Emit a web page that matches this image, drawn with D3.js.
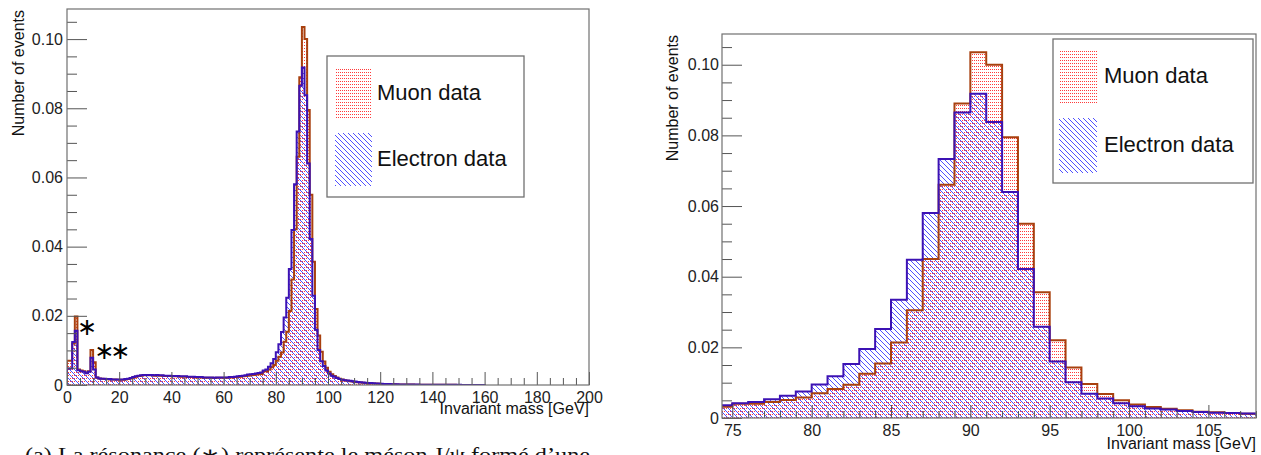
<!DOCTYPE html>
<html>
<head>
<meta charset="utf-8">
<script src="https://cdn.jsdelivr.net/npm/d3@7"></script>
<style>
  body { margin: 0; background: #fff; }
  svg { display: block; }
  .tick text { font-family: "Liberation Sans", Arial, sans-serif; font-size: 16px; fill: #222; }
  .tick line { stroke: #555; }
</style>
</head>
<body>
<script>
// 1 GeV bins starting at 0 GeV
const firstBin = 0;
const binWidth = 1;

const muonData = [
    0.0070, 0.0070, 0.0120, 0.0198, 0.0045, 0.0042, 0.0040, 0.0036, 0.0040, 0.0101,
    0.0066, 0.0022, 0.0019, 0.0018, 0.0017, 0.0017, 0.0016, 0.0016, 0.0016, 0.0015,
    0.0015, 0.0015, 0.0016, 0.0017, 0.0019, 0.0022, 0.0024, 0.0026, 0.0027, 0.0028,
    0.0028, 0.0028, 0.0028, 0.0027, 0.0028, 0.0027, 0.0027, 0.0026, 0.0026, 0.0026,
    0.0025, 0.0025, 0.0025, 0.0024, 0.0024, 0.0024, 0.0023, 0.0023, 0.0023, 0.0022,
    0.0022, 0.0022, 0.0021, 0.0021, 0.0021, 0.0021, 0.0020, 0.0021, 0.0021, 0.0021,
    0.0021, 0.0021, 0.0022, 0.0022, 0.0023, 0.0023, 0.0024, 0.0025, 0.0026, 0.0027,
    0.0028, 0.0029, 0.0030, 0.0031, 0.0032, 0.0040, 0.0040, 0.0045, 0.0051, 0.0058,
    0.0070, 0.0082, 0.0094, 0.0125, 0.0154, 0.0214, 0.0305, 0.0450, 0.0660, 0.0890,
    0.1035, 0.1000, 0.0795, 0.0550, 0.0356, 0.0220, 0.0143, 0.0096, 0.0068, 0.0050,
    0.0038, 0.0031, 0.0026, 0.0022, 0.0018, 0.0016, 0.0014, 0.0012, 0.0011, 0.0010,
    0.0009, 0.0008, 0.0007, 0.00065, 0.0006, 0.00055, 0.0005, 0.00045, 0.0004, 0.00035,
    0.0003, 0.0003, 0.00028, 0.00025, 0.00022, 0.0002, 0.00018, 0.00016, 0.00015, 0.00014,
    0.00012, 0.00012, 0.00011, 0.0001, 0.0001, 0.00009, 0.00009, 0.00008, 0.00008, 0.00007,
    0.00007, 0.00006, 0.00006, 0.00005, 0.00005, 0.00005, 0.00004, 0.00004, 0.00004, 0.00003,
    0.00003, 0.00003, 0.00002, 0.00002, 0.00002, 0.00002, 0.00001, 0.00001, 0.00001, 0.00001
];

const electronData = [
    0.0048, 0.0048, 0.0124, 0.0157, 0.0043, 0.0040, 0.0038, 0.0034, 0.0038, 0.0079,
    0.0045, 0.0022, 0.0019, 0.0018, 0.0018, 0.0017, 0.0017, 0.0016, 0.0016, 0.0016,
    0.0016, 0.0016, 0.0017, 0.0018, 0.0020, 0.0023, 0.0025, 0.0027, 0.0028, 0.0029,
    0.0029, 0.0029, 0.0029, 0.0028, 0.0029, 0.0028, 0.0028, 0.0027, 0.0027, 0.0027,
    0.0026, 0.0026, 0.0026, 0.0025, 0.0025, 0.0025, 0.0024, 0.0024, 0.0024, 0.0023,
    0.0023, 0.0023, 0.0022, 0.0022, 0.0022, 0.0022, 0.0021, 0.0022, 0.0022, 0.0022,
    0.0022, 0.0022, 0.0023, 0.0023, 0.0024, 0.0025, 0.0026, 0.0027, 0.0028, 0.0030,
    0.0031, 0.0032, 0.0033, 0.0035, 0.0036, 0.0042, 0.0045, 0.0053, 0.0063, 0.0075,
    0.0095, 0.0118, 0.0153, 0.0195, 0.0252, 0.0335, 0.0448, 0.0580, 0.0733, 0.0865,
    0.0918, 0.0838, 0.0640, 0.0422, 0.0258, 0.0160, 0.0101, 0.0069, 0.0055, 0.0042,
    0.0033, 0.0027, 0.0024, 0.0020, 0.0017, 0.0015, 0.0014, 0.0013, 0.0012, 0.0011,
    0.0010, 0.0009, 0.0008, 0.0007, 0.00065, 0.0006, 0.00055, 0.0005, 0.00045, 0.0004,
    0.00035, 0.00032, 0.0003, 0.00027, 0.00024, 0.00022, 0.0002, 0.00018, 0.00017, 0.00016,
    0.00015, 0.00014, 0.00013, 0.00012, 0.00011, 0.0001, 0.0001, 0.00009, 0.00009, 0.00008,
    0.00008, 0.00007, 0.00007, 0.00006, 0.00006, 0.00005, 0.00005, 0.00005, 0.00004, 0.00004,
    0.00004, 0.00003, 0.00003, 0.00003, 0.00002, 0.00002, 0.00002, 0.00001, 0.00001, 0.00001
];

const seriesNames = ["Muon data", "Electron data"];
const yTicks = [0, 0.02, 0.04, 0.06, 0.08, 0.10];
const yTickLabels = ["0", "0.02", "0.04", "0.06", "0.08", "0.10"];
const yMinorTicks = [0.005, 0.01, 0.015, 0.025, 0.03, 0.035, 0.045, 0.05, 0.055, 0.065, 0.07, 0.075, 0.085, 0.09, 0.095, 0.105];
const fullTicks = [0, 20, 40, 60, 80, 100, 120, 140, 160, 180, 200];
const zoomTicks = [75, 80, 85, 90, 95, 100, 105];
const yTitle = "Number of events";
const xTitle = "Invariant mass [GeV]";
const caption = "(a) La résonance (∗) représente le méson J/ψ formé d’une";

const yMax = 0.1087;

const svg = d3.select("body").append("svg")
    .attr("width", 1261)
    .attr("height", 455);

// ROOT-like fill patterns
const defs = svg.append("defs");
const dots = defs.append("pattern")
    .attr("id", "muonDots")
    .attr("patternUnits", "userSpaceOnUse")
    .attr("width", 2).attr("height", 3);
dots.append("rect").attr("width", 1).attr("height", 1).attr("fill", "#ff3a3a");

const hatch = defs.append("pattern")
    .attr("id", "elecHatch")
    .attr("patternUnits", "userSpaceOnUse")
    .attr("width", 5).attr("height", 5);
hatch.append("path")
    .attr("d", "M0,0L5,5M-1,4L1,6M4,-1L6,1")
    .attr("stroke", "#5050ff")
    .attr("stroke-width", 1)
    .attr("fill", "none");

const series = [
    { name: seriesNames[0], values: muonData, fill: "url(#muonDots)", stroke: "#a8400e" },
    { name: seriesNames[1], values: electronData, fill: "url(#elecHatch)", stroke: "#3c12b4" }
];

const panels = [
    {
        id: "full", left: 67, right: 589, top: 9, bottom: 385,
        xDomain: [0, 200], xTicks: fullTicks, xMinorStep: 5, labelPad: 7, yPad: 4,
        titleY: 414, yTitleX: 24,
        legend: { x: 327, y: 56, w: 197, h: 141, sw: [335, 67, 37, 52, 133, 53], tx: 377, ty: [100, 166] }
    },
    {
        id: "zoom", left: 722, right: 1256, top: 34, bottom: 418,
        xDomain: [74.35, 108], xTicks: zoomTicks, xMinorStep: 1, labelPad: 7, yPad: 3,
        titleY: 449, yTitleX: 678,
        legend: { x: 1053, y: 39, w: 200, h: 144, sw: [1059, 49, 38, 55, 118, 55], tx: 1104, ty: [83, 152] }
    }
];

function histPoints(values) {
    const pts = [[firstBin, 0]];
    values.forEach((v, i) => {
        pts.push([firstBin + i * binWidth, v]);
        pts.push([firstBin + (i + 1) * binWidth, v]);
    });
    pts.push([firstBin + values.length * binWidth, 0]);
    return pts;
}

panels.forEach(p => {
    const g = svg.append("g");
    const x = d3.scaleLinear().domain(p.xDomain).range([p.left, p.right]);
    const y = d3.scaleLinear().domain([0, yMax]).range([p.bottom, p.top]);

    defs.append("clipPath").attr("id", "clip-" + p.id)
        .append("rect")
        .attr("x", p.left).attr("y", p.top - 2)
        .attr("width", p.right - p.left).attr("height", p.bottom - p.top + 2);

    const line = d3.line().x(d => x(d[0])).y(d => y(d[1]));
    const hist = g.append("g").attr("clip-path", `url(#clip-${p.id})`);

    // fills first, then outlines
    series.forEach(s => {
        hist.append("path")
            .attr("d", line(histPoints(s.values)) + "Z")
            .attr("fill", s.fill)
            .attr("stroke", "none");
    });
    series.forEach(s => {
        hist.append("path")
            .attr("d", line(histPoints(s.values)))
            .attr("fill", "none")
            .attr("stroke", s.stroke)
            .attr("stroke-width", 2);
    });

    // axes (ticks inside the frame, ROOT style)
    const xMinor = d3.range(Math.ceil(p.xDomain[0] / p.xMinorStep) * p.xMinorStep, p.xDomain[1] + 0.001, p.xMinorStep)
        .filter(v => !p.xTicks.includes(v));

    g.append("g")
        .attr("transform", `translate(0,${p.bottom})`)
        .call(d3.axisBottom(x).tickValues(xMinor).tickSizeInner(-7).tickSizeOuter(0).tickFormat(""))
        .call(a => a.select(".domain").remove());
    g.append("g")
        .attr("transform", `translate(0,${p.bottom})`)
        .call(d3.axisBottom(x).tickValues(p.xTicks).tickSizeInner(-13).tickSizeOuter(0).tickPadding(p.labelPad).tickFormat(d3.format("d")))
        .call(a => a.select(".domain").remove());

    g.append("g")
        .attr("transform", `translate(${p.left},0)`)
        .call(d3.axisLeft(y).tickValues(yMinorTicks).tickSizeInner(-10).tickSizeOuter(0).tickFormat(""))
        .call(a => a.select(".domain").remove());
    g.append("g")
        .attr("transform", `translate(${p.left},0)`)
        .call(d3.axisLeft(y).tickValues(yTicks).tickSizeInner(-20).tickSizeOuter(0).tickPadding(p.yPad)
            .tickFormat((d, i) => yTickLabels[i]))
        .call(a => a.select(".domain").remove());

    // frame
    g.append("rect")
        .attr("x", p.left).attr("y", p.top)
        .attr("width", p.right - p.left).attr("height", p.bottom - p.top)
        .attr("fill", "none")
        .attr("stroke", "#707070")
        .attr("stroke-width", 1.2);

    // axis titles
    g.append("text")
        .attr("x", p.right)
        .attr("y", p.titleY)
        .attr("text-anchor", "end")
        .style("font-family", "Liberation Sans, Arial, sans-serif")
        .style("font-size", "16px")
        .attr("fill", "#111")
        .text(xTitle);

    g.append("text")
        .attr("transform", `translate(${p.yTitleX},${p.top + 1}) rotate(-90)`)
        .attr("text-anchor", "end")
        .style("font-family", "Liberation Sans, Arial, sans-serif")
        .style("font-size", "16px")
        .attr("fill", "#111")
        .text(yTitle);

    // legend
    const L = p.legend;
    const leg = g.append("g");
    leg.append("rect")
        .attr("x", L.x).attr("y", L.y).attr("width", L.w).attr("height", L.h)
        .attr("fill", "#fff")
        .attr("stroke", "#707070")
        .attr("stroke-width", 1.3);
    series.forEach((s, i) => {
        leg.append("rect")
            .attr("x", L.sw[0])
            .attr("y", i === 0 ? L.sw[1] : L.sw[4])
            .attr("width", L.sw[2])
            .attr("height", i === 0 ? L.sw[3] : L.sw[5])
            .attr("fill", s.fill);
        leg.append("text")
            .attr("x", L.tx)
            .attr("y", L.ty[i])
            .style("font-family", "Liberation Sans, Arial, sans-serif")
            .style("font-size", "22px")
            .attr("fill", "#111")
            .text(s.name);
    });

    if (p.id === "full") {
        // resonance markers
        g.append("text")
            .attr("x", x(7.7)).attr("y", y(0.0168))
            .attr("text-anchor", "middle")
            .attr("dominant-baseline", "central")
            .style("font-family", "DejaVu Sans, sans-serif")
            .style("font-size", "24px")
            .text("∗");
        g.append("text")
            .attr("x", x(16.6)).attr("y", y(0.0098))
            .attr("text-anchor", "middle")
            .attr("dominant-baseline", "central")
            .attr("letter-spacing", "-4px")
            .style("font-family", "DejaVu Sans, sans-serif")
            .style("font-size", "24px")
            .text("∗∗");
    }
});

// caption of the first panel (cut by the picture edge)
svg.append("text")
    .attr("x", 25)
    .attr("y", 462)
    .attr("textLength", 565)
    .attr("lengthAdjust", "spacingAndGlyphs")
    .style("font-family", "Liberation Serif, serif")
    .style("font-size", "20px")
    .attr("fill", "#111")
    .text(caption);
</script>
</body>
</html>
